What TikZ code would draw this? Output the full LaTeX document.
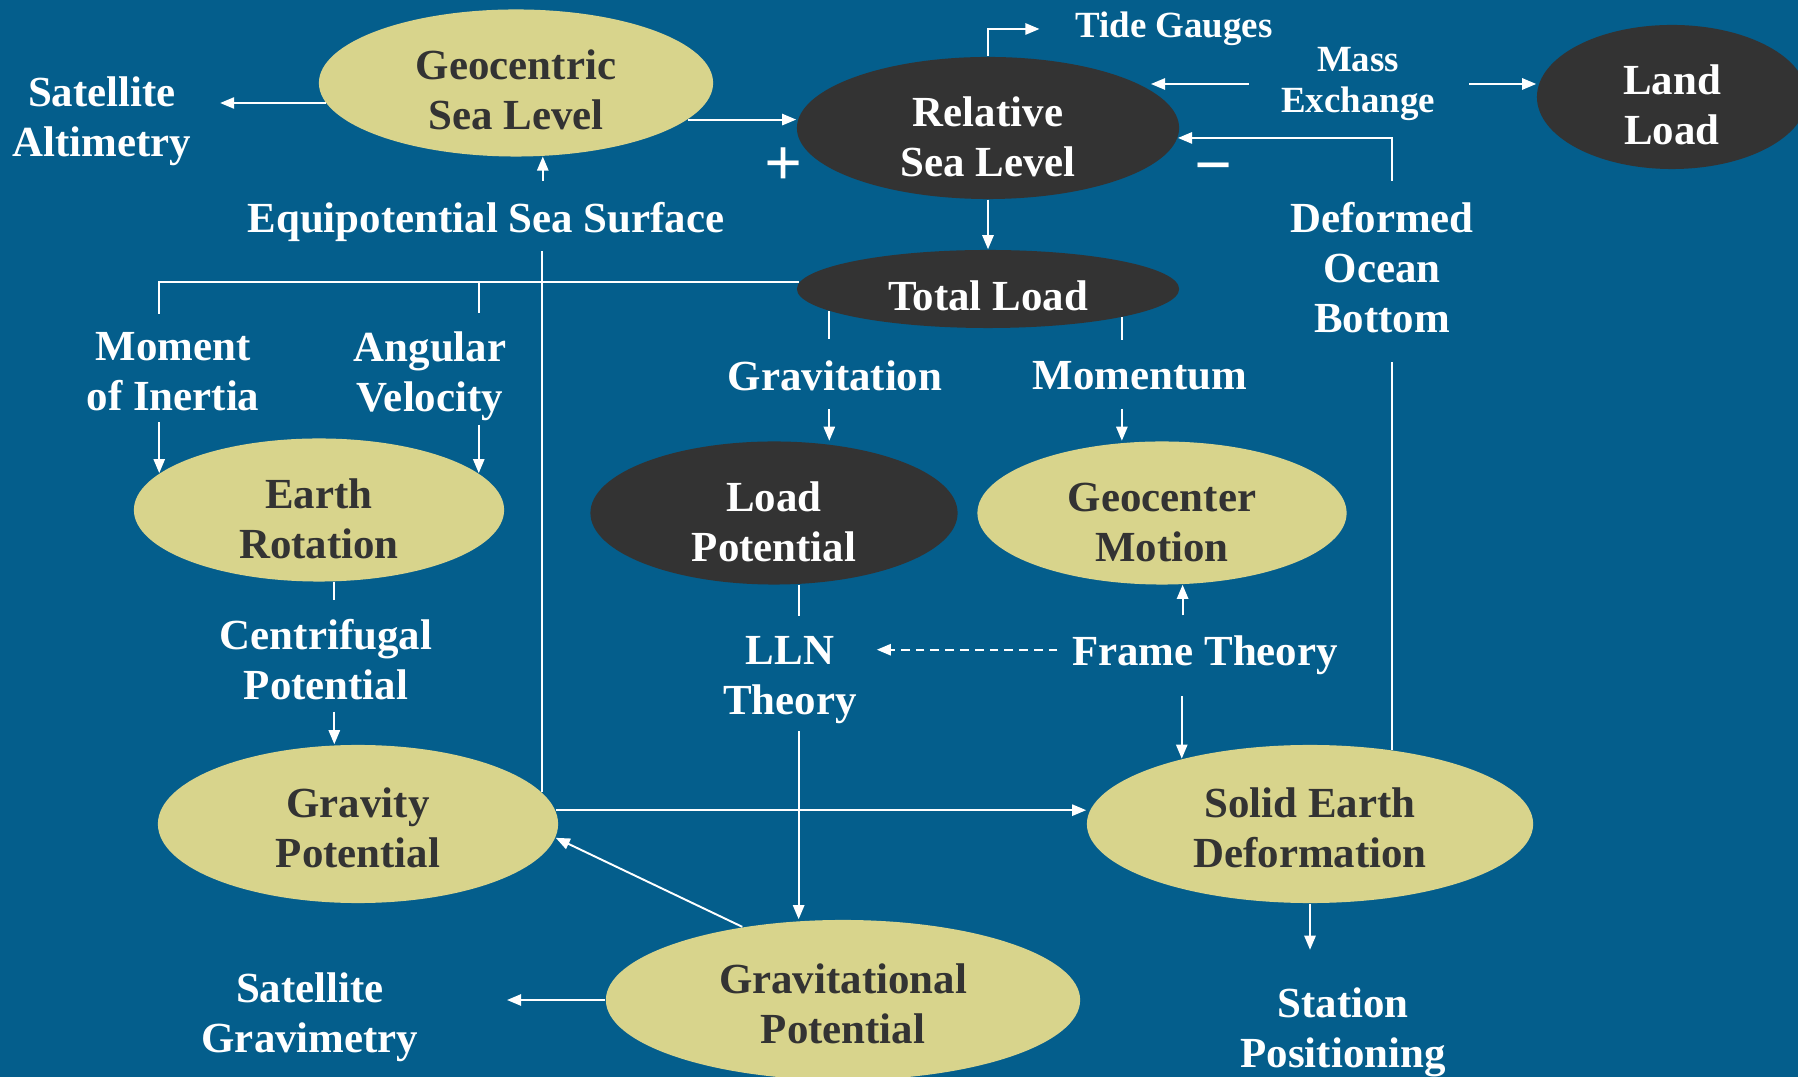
\documentclass[tikz,border=0pt]{standalone}
\usepackage{fontspec}
\setmainfont{Liberation Serif}
\usepackage{tikz}
\usetikzlibrary{shapes.geometric,arrows.meta}
\definecolor{ocean}{HTML}{045E8C}
\definecolor{sand}{HTML}{D8D48C}
\definecolor{coal}{HTML}{333333}
\newcommand{\lblfont}{\fontsize{12.2}{14.2}\selectfont\bfseries}
\newcommand{\smlfont}{\fontsize{10.5}{11.7}\selectfont\bfseries}
\newcommand{\dipht}{27.7pt}
\tikzset{
  dip/.store in=\dipht,
  yel/.style={ellipse,fill=sand,text=coal,align=center,inner sep=0pt,font=\lblfont,
    execute at begin node={\rule{0pt}{\dipht}}},
  drk/.style={ellipse,fill=coal,text=white,align=center,inner sep=0pt,font=\lblfont,
    execute at begin node={\rule{0pt}{\dipht}}},
  lbl/.style={text=white,align=center,inner sep=0pt,font=\lblfont},
  sgn/.style={text=white,inner sep=0pt,font=\fontsize{19}{22}\selectfont\bfseries},
  ln/.style={draw=white,line width=0.55pt},
  fl/.style={ln,-{Triangle[length=4pt,width=3.2pt]}},
  dfl/.style={fl,dash pattern=on 2.5pt off 1.7pt},
}
\begin{document}
\begin{tikzpicture}[x=0.01cm,y=-0.01cm]
  \path[use as bounding box] (0,0) rectangle (1798,1077);
  \clip (0,0) rectangle (1798,1077);
  \fill[ocean] (0,0) rectangle (1798,1077);

  \node[yel,dip=26.4pt,minimum width=3.94cm,minimum height=1.47cm] (geo) at (516,83) {Geocentric\\Sea Level};
  \node[drk,minimum width=3.82cm,minimum height=1.42cm] (rsl) at (988,128) {Relative\\Sea Level};
  \node[drk,dip=27.1pt,minimum width=2.70cm,minimum height=1.44cm] (land) at (1672,97) {Land\\Load};
  \node[drk,dip=12.2pt,minimum width=3.82cm,minimum height=0.78cm] (total) at (988,289) {Total Load};
  \node[yel,minimum width=3.70cm,minimum height=1.43cm] (rot) at (319,510) {Earth\\Rotation};
  \node[drk,minimum width=3.67cm,minimum height=1.43cm] (loadpot) at (774,513) {Load\\Potential};
  \node[yel,minimum width=3.69cm,minimum height=1.43cm] (geoc) at (1162,513) {Geocenter\\Motion};
  \node[yel,dip=24.8pt,minimum width=4.00cm,minimum height=1.58cm] (grav) at (358,824) {Gravity\\Potential};
  \node[yel,dip=24.8pt,minimum width=4.46cm,minimum height=1.58cm] (solid) at (1310,824) {Solid Earth\\Deformation};
  \node[yel,dip=24.8pt,minimum width=4.74cm,minimum height=1.60cm] (gravpot) at (843,1000) {Gravitational\\Potential};

  \node[lbl] (satalt) at (102,121) {Satellite\\Altimetry};
  \node[lbl,font=\smlfont] (tide) at (1174,29) {Tide Gauges};
  \node[lbl,font=\smlfont] (mass) at (1358,84) {Mass\\Exchange};
  \node[sgn] (plus) at (784,167) {+};
  \node[sgn] (minus) at (1214,175) {−};
  \node[lbl] (equi) at (486,222) {Equipotential Sea Surface};
  \node[lbl] (dob) at (1382,268) {Deformed\\Ocean\\Bottom};
  \node[lbl] (moment) at (173,372) {Moment\\of Inertia};
  \node[lbl] (angular) at (430,376) {Angular\\Velocity};
  \node[lbl] (gravitation) at (835,376) {Gravitation};
  \node[lbl] (momentum) at (1140,376) {Momentum};
  \node[lbl] (centri) at (326,660) {Centrifugal\\Potential};
  \node[lbl] (lln) at (790,680) {LLN\\Theory};
  \node[lbl] (frame) at (1205,655) {Frame Theory};
  \node[lbl] (satgrav) at (310,1017) {Satellite\\Gravimetry};
  \node[lbl] (station) at (1343,1032) {Station\\Positioning};

  \draw[fl,shorten >=8pt] (geo.186) -- (geo.186 -| satalt.east);
  \draw[fl] (geo.-12) -- (geo.-12 -| rsl.west);
  \draw[fl,shorten >=10pt] (rsl.north) |- (tide.west);
  \draw[fl,shorten <=9pt,shorten >=2pt] (mass.west) -- (mass.west -| rsl.15);
  \draw[fl,shorten <=9.5pt] (mass.east) -- (mass.east -| land.west);
  \draw[fl,shorten <=6pt] (solid.42 |- dob.north) |- (rsl.-3);
  \draw[ln,shorten >=8pt] (solid.42) -- (solid.42 |- dob.south);
  \draw[fl] (rsl.south) -- (total.north);

  \draw[ln,shorten >=5pt] (total.178) -| (rot.167 |- moment.north);
  \draw[ln,shorten >=5pt] (rot.13 |- total.178) -- (rot.13 |- angular.north);
  \draw[fl,shorten <=3pt] (rot.167 |- moment.south) -- (rot.167);
  \draw[fl,shorten <=1pt] (rot.13 |- angular.south) -- (rot.13);

  \draw[ln,shorten >=2.5pt] (grav.10) -- (grav.10 |- equi.south);
  \draw[fl,shorten <=6pt] (geo.-70 |- equi.north) -- (geo.-70);
  \draw[fl] (grav.4) -- (grav.4 -| solid.west);

  \draw[ln,shorten >=6pt] (total.188) -- (total.188 |- gravitation.north);
  \draw[fl,shorten <=5pt] (total.188 |- gravitation.south) -- (total.188 |- loadpot.north);
  \draw[ln,shorten >=6pt] (total.-12) -- (total.-12 |- momentum.north);
  \draw[fl,shorten <=5pt] (total.-12 |- momentum.south) -- (total.-12 |- geoc.north);

  \draw[ln,shorten >=5.5pt] (rot.-78) -- (rot.-78 |- centri.north);
  \draw[fl,shorten <=3pt] (rot.-78 |- centri.south) -- (rot.-78 |- grav.north);
  \draw[ln,shorten >=5.5pt] (loadpot.-71) -- (loadpot.-71 |- lln.north);
  \draw[fl,shorten <=2pt] (loadpot.-71 |- lln.south) -- (loadpot.-71 |- gravpot.north);

  \draw[dfl,shorten <=4pt,shorten >=5.5pt] ([yshift=1.5pt]frame.west) -- ([yshift=1.5pt]frame.west -| lln.east);
  \draw[fl,shorten <=5.5pt] (geoc.-74 |- frame.north) -- (geoc.-74);
  \draw[fl,shorten <=6pt] (solid.153 |- frame.south) -- (solid.153);

  \draw[fl] (gravpot.144) -- (grav.-4);
  \draw[fl,shorten >=25pt] (gravpot.west) -- (gravpot.west -| satgrav.east);
  \draw[fl,shorten >=10.5pt] (solid.south) -- (solid.south |- station.north);
\end{tikzpicture}
\end{document}
